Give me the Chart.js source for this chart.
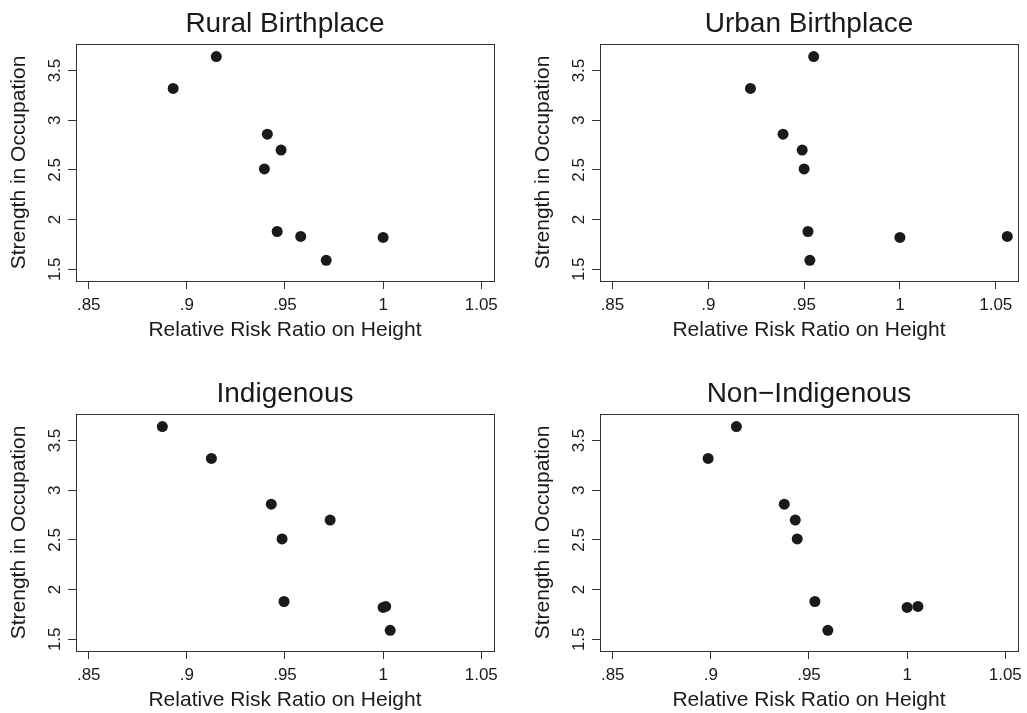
<!DOCTYPE html>
<html>
<head>
<meta charset="utf-8">
<title>Strength in Occupation vs Relative Risk Ratio on Height</title>
<script src="https://cdn.jsdelivr.net/npm/chart.js@4.4.0/dist/chart.umd.min.js"></script>
<style>
  html, body { margin: 0; padding: 0; background: #fff; overflow: hidden; }
  #contenedor { position: relative; width: 1027px; height: 713px; background: #fff; }
  .panel { position: absolute; }
</style>
</head>
<body>
<div id="contenedor">
  <canvas id="graficoRural" class="panel" style="left:0;top:0" width="503" height="343"></canvas>
  <canvas id="graficoUrbano" class="panel" style="left:524px;top:0" width="503" height="343"></canvas>
  <canvas id="graficoIndigena" class="panel" style="left:0;top:370px" width="503" height="343"></canvas>
  <canvas id="graficoNoIndigena" class="panel" style="left:524px;top:370px" width="503" height="343"></canvas>
</div>
<script>
// Fuerza en la ocupacion (eje Y), la misma en los cuatro paneles
const fuerza = [3.64, 3.32, 2.86, 2.70, 2.51, 1.88, 1.83, 1.82, 1.59];

// Razon de riesgo relativo sobre la altura (eje X), un arreglo por panel
const rrRural = [0.915, 0.893, 0.941, 0.948, 0.9395, 0.946, 0.958, 1.000, 0.971];
const rrUrbano = [0.955, 0.922, 0.939, 0.949, 0.950, 0.952, 1.056, 1.000, 0.953];
const rrIndigena = [0.8875, 0.9125, 0.943, 0.973, 0.9485, 0.9495, 1.0013, 1.000, 1.0036];
const rrNoIndigena = [0.913, 0.8986, 0.9374, 0.943, 0.944, 0.953, 1.0055, 1.000, 0.9596];

// Titulos y marcas de los ejes
const titulos = ['Rural Birthplace', 'Urban Birthplace', 'Indigenous', 'Non\u2212Indigenous'];
const xTicks = [0.85, 0.9, 0.95, 1, 1.05];
const xTickLabels = ['.85', '.9', '.95', '1', '1.05'];
const yTicks = [1.5, 2, 2.5, 3, 3.5];
const yTickLabels = ['1.5', '2', '2.5', '3', '3.5'];

const colorTexto = '#1a1a1a';
const colorLinea = '#333333';

Chart.defaults.font.family = '"Liberation Sans", Arial, Helvetica, sans-serif';
Chart.defaults.color = colorTexto;

// Eje extra solo para cerrar el marco (arriba / derecha)
function ejeMarco(eje, posicion) {
    return {
        type: 'linear',
        axis: eje,
        position: posicion,
        display: true,
        grid: { display: false, drawTicks: false },
        ticks: { display: false },
        border: { display: true, color: colorLinea, width: 1 },
        afterFit: function(s) {
            if (eje === 'x') { s.height = 0; } else { s.width = 0; }
        }
    };
}

// Crea un panel de dispersion
function crearGrafico(id, titulo, valoresX, xMax) {
    const ctx = document.getElementById(id).getContext('2d');
    return new Chart(ctx, {
        type: 'scatter',
        data: {
            datasets: [{
                data: valoresX.map((x, i) => ({ x: x, y: fuerza[i] })),
                backgroundColor: colorTexto,
                borderWidth: 0,
                pointRadius: 5.5,
                pointHoverRadius: 5.5
            }]
        },
        options: {
            responsive: false,
            animation: false,
            events: [],
            layout: { padding: { left: 0, right: 9, top: 0, bottom: 0 } },
            plugins: {
                legend: { display: false },
                tooltip: { enabled: false },
                title: {
                    display: true,
                    text: titulo,
                    fullSize: false,
                    color: colorTexto,
                    font: { size: 28, weight: 'normal', lineHeight: 1 },
                    padding: { top: 10, bottom: 6 }
                }
            },
            scales: {
                x: {
                    type: 'linear',
                    position: 'bottom',
                    bounds: 'data',
                    min: 0.8435,
                    max: xMax,
                    afterBuildTicks: function(s) { s.ticks = xTicks.map(v => ({ value: v })); },
                    afterFit: function(s) { s.height = 62; s.paddingLeft = 0; s.paddingRight = 0; },
                    grid: { display: true, drawOnChartArea: false, drawTicks: true, tickLength: 8, color: colorLinea, lineWidth: 1 },
                    border: { display: true, color: colorLinea, width: 1 },
                    ticks: {
                        padding: 6, minRotation: 0, maxRotation: 0, autoSkip: false,
                        color: colorTexto, font: { size: 17 },
                        callback: function(v, i) { return xTickLabels[i]; }
                    },
                    title: {
                        display: true,
                        text: 'Relative Risk Ratio on Height',
                        color: colorTexto,
                        font: { size: 21, lineHeight: 1 },
                        padding: { top: 0, bottom: 2.5 }
                    }
                },
                y: {
                    type: 'linear',
                    position: 'left',
                    bounds: 'data',
                    min: 1.382,
                    max: 3.767,
                    afterBuildTicks: function(s) { s.ticks = yTicks.map(v => ({ value: v })); },
                    afterFit: function(s) { s.width = 76; s.paddingTop = 0; s.paddingBottom = 0; },
                    grid: { display: true, drawOnChartArea: false, drawTicks: true, tickLength: 8, color: colorLinea, lineWidth: 1 },
                    border: { display: true, color: colorLinea, width: 1 },
                    ticks: {
                        padding: 1, minRotation: 90, maxRotation: 90, crossAlign: 'center', autoSkip: false,
                        color: colorTexto, font: { size: 17 },
                        callback: function(v, i) { return yTickLabels[i]; }
                    },
                    title: {
                        display: true,
                        text: 'Strength in Occupation',
                        color: colorTexto,
                        font: { size: 21, lineHeight: 1 },
                        padding: { top: 9, bottom: 0 }
                    }
                },
                xArriba: ejeMarco('x', 'top'),
                yDerecha: ejeMarco('y', 'right')
            }
        }
    });
}

crearGrafico('graficoRural', titulos[0], rrRural, 1.0565);
crearGrafico('graficoUrbano', titulos[1], rrUrbano, 1.0616);
crearGrafico('graficoIndigena', titulos[2], rrIndigena, 1.0565);
crearGrafico('graficoNoIndigena', titulos[3], rrNoIndigena, 1.0565);
</script>
</body>
</html>
